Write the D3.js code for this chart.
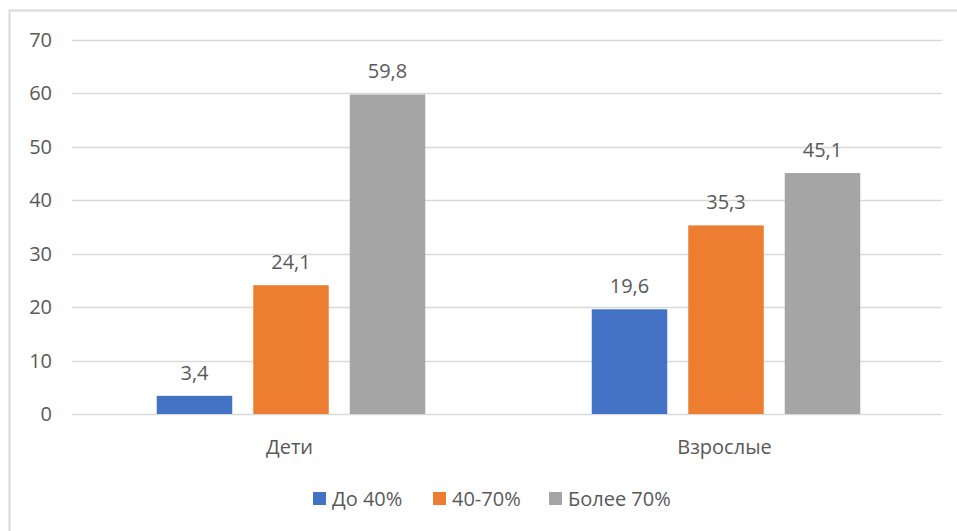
<!DOCTYPE html>
<html>
<head>
<meta charset="utf-8">
<script src="https://cdn.jsdelivr.net/npm/d3@7"></script>
<style>
  body { margin: 0; background: #fff; }
  text { font-family: "Open Sans", "Liberation Sans", sans-serif; fill: #595959; }
</style>
</head>
<body>
<div id="chart"></div>
<script>
var categories = ["Дети", "Взрослые"];
var seriesNames = ["До 40%", "40-70%", "Более 70%"];
var seriesColors = ["#4472c4", "#ed7d31", "#a5a5a5"];
var valuesLow = [3.4, 19.6];
var valuesMid = [24.1, 35.3];
var valuesHigh = [59.8, 45.1];
var yTicks = [0, 10, 20, 30, 40, 50, 60, 70];

var svgWidth = 957;
var svgHeight = 531;
var margin = { top: 40, right: 15, bottom: 117, left: 72 };
var width = 942 - margin.left;
var height = 414 - margin.top;

var svg = d3.select("#chart")
  .append("svg")
  .attr("width", svgWidth)
  .attr("height", svgHeight);

// outer frame
svg.append("rect")
  .attr("x", 9.5)
  .attr("y", 10.5)
  .attr("width", 960)
  .attr("height", 540)
  .attr("fill", "none")
  .attr("stroke", "#d9d9d9")
  .attr("stroke-width", 2);

var chartGroup = svg.append("g")
  .attr("transform", `translate(${margin.left}, ${margin.top})`);

var xScale = d3.scaleBand()
  .domain(categories)
  .range([0, width]);

var xInner = d3.scaleBand()
  .domain(seriesNames)
  .range([0, 3 * 75.5 + 2 * 21])
  .paddingInner(21 / 96.5);

var yScale = d3.scaleLinear()
  .domain([0, 70])
  .range([height, 0]);

// gridlines
chartGroup.selectAll(".grid")
  .data(yTicks)
  .enter()
  .append("line")
  .attr("x1", 0)
  .attr("x2", width)
  .attr("y1", d => Math.round(yScale(d)) + 0.5)
  .attr("y2", d => Math.round(yScale(d)) + 0.5)
  .attr("stroke", "#d9d9d9")
  .attr("stroke-width", 1.3);

// y tick labels
chartGroup.selectAll(".ytick")
  .data(yTicks)
  .enter()
  .append("text")
  .attr("x", -20)
  .attr("y", d => yScale(d))
  .attr("dy", "0.35em")
  .attr("text-anchor", "end")
  .style("font-size", "20px")
  .text(d => d);

var rows = [];
categories.forEach(function(cat, i) {
  [valuesLow, valuesMid, valuesHigh].forEach(function(vals, j) {
    rows.push({ cat: cat, series: seriesNames[j], color: seriesColors[j], value: vals[i] });
  });
});

var groupOffset = (xScale.bandwidth() - xInner.range()[1]) / 2 + 1.5;

chartGroup.selectAll(".bar")
  .data(rows)
  .enter()
  .append("rect")
  .attr("x", d => xScale(d.cat) + groupOffset + xInner(d.series))
  .attr("y", d => yScale(d.value))
  .attr("width", xInner.bandwidth())
  .attr("height", d => height - yScale(d.value))
  .attr("fill", d => d.color);

// data labels
chartGroup.selectAll(".label")
  .data(rows)
  .enter()
  .append("text")
  .attr("x", d => xScale(d.cat) + groupOffset + xInner(d.series) + xInner.bandwidth() / 2)
  .attr("y", d => yScale(d.value) - 16)
  .attr("text-anchor", "middle")
  .style("font-size", "20px")
  .text(d => String(d.value).replace(".", ","));

// category labels
chartGroup.selectAll(".xlabel")
  .data(categories)
  .enter()
  .append("text")
  .attr("x", d => xScale(d) + xScale.bandwidth() / 2)
  .attr("y", height + 40)
  .attr("text-anchor", "middle")
  .style("font-size", "20px")
  .text(d => d);

// legend
var legendX = [313, 433, 549];
var legend = svg.selectAll(".legend")
  .data(seriesNames)
  .enter()
  .append("g")
  .attr("transform", (d, i) => `translate(${legendX[i]}, 492)`);

legend.append("rect")
  .attr("width", 13)
  .attr("height", 13)
  .attr("fill", (d, i) => seriesColors[i]);

legend.append("text")
  .attr("x", 19)
  .attr("y", 6.5)
  .attr("dy", "0.35em")
  .style("font-size", "20px")
  .text(d => d);
</script>
</body>
</html>
